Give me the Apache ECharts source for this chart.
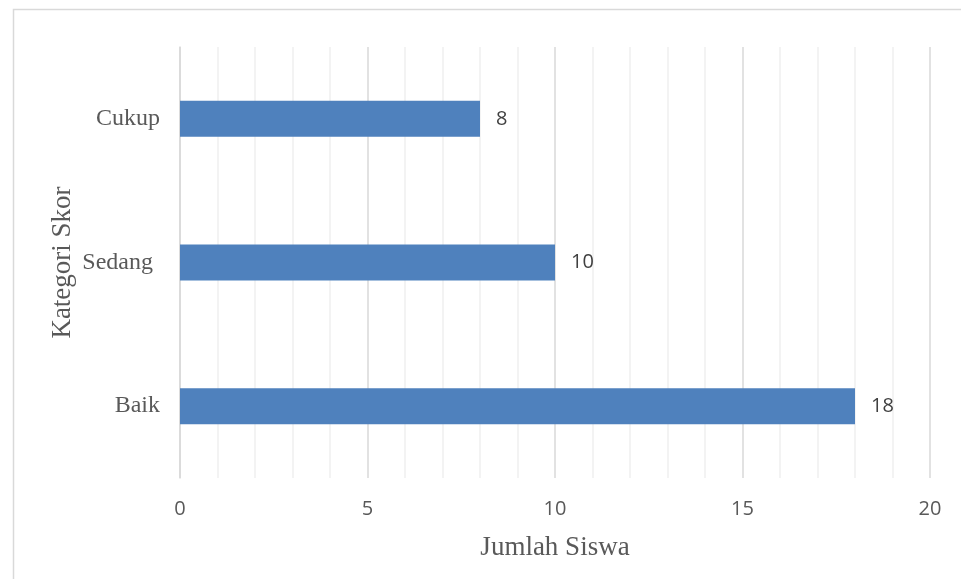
<!DOCTYPE html>
<html>
<head>
<meta charset="utf-8">
<script src="https://cdn.jsdelivr.net/npm/echarts@6/dist/echarts.min.js"></script>
<style>html,body{margin:0;padding:0;background:#fff;}#c{width:961px;height:579px;}</style>
</head>
<body>
<div id="c"></div>
<script>
var categories = ["Baik", "Sedang", "Cukup"];
var values = [18, 10, 8];
var xTicks = [0, 5, 10, 15, 20];

var labelFont = {fontFamily: 'Liberation Serif', fontSize: 24, color: '#595959'};
var chart = echarts.init(document.getElementById('c'), null, {renderer: 'canvas'});
chart.setOption({
  animation: false,
  backgroundColor: '#fff',
  graphic: [{
    type: 'rect', left: 11, top: 7, z: -1,
    shape: {width: 970, height: 600},
    style: {fill: 'none', stroke: '#d9d9d9', lineWidth: 1.5}
  }],
  grid: {left: 180, right: 31, top: 47, bottom: 101, containLabel: false},
  xAxis: {
    type: 'value', min: xTicks[0], max: xTicks[xTicks.length - 1], interval: 5,
    name: 'Jumlah Siswa', nameLocation: 'middle', nameGap: 56,
    nameTextStyle: {fontFamily: 'Liberation Serif', fontSize: 27, color: '#595959'},
    axisLine: {show: false}, axisTick: {show: false},
    axisLabel: {fontFamily: 'Open Sans', fontSize: 20, color: '#595959', margin: 21},
    splitLine: {show: true, lineStyle: {color: '#d9d9d9', width: 1.5}},
    minorTick: {show: false, splitNumber: 5},
    minorSplitLine: {show: true, lineStyle: {color: '#f0f0f0', width: 1.5}}
  },
  yAxis: {
    type: 'category', data: categories,
    name: 'Kategori Skor', nameLocation: 'middle', nameGap: 104, nameRotate: 90,
    nameMoveOverlap: false,
    nameTextStyle: {fontFamily: 'Liberation Serif', fontSize: 27, color: '#595959'},
    axisLine: {show: true, lineStyle: {color: '#d9d9d9', width: 1.5}},
    axisTick: {show: false},
    axisLabel: {
      fontFamily: 'Liberation Serif', fontSize: 24, color: '#595959', margin: 20,
      formatter: function (v) { return v === 'Sedang' ? '{s|' + v + '}' : '{n|' + v + '}'; },
      rich: {
        n: labelFont,
        s: Object.assign({padding: [0, 7, 0, 0]}, labelFont)
      }
    },
    splitLine: {show: false}
  },
  series: [{
    type: 'bar', data: values, barWidth: 36,
    itemStyle: {color: '#4F81BD'},
    label: {show: true, position: 'right', distance: 16,
      fontFamily: 'Open Sans', fontSize: 20, color: '#404040'}
  }]
});
</script>
</body>
</html>
